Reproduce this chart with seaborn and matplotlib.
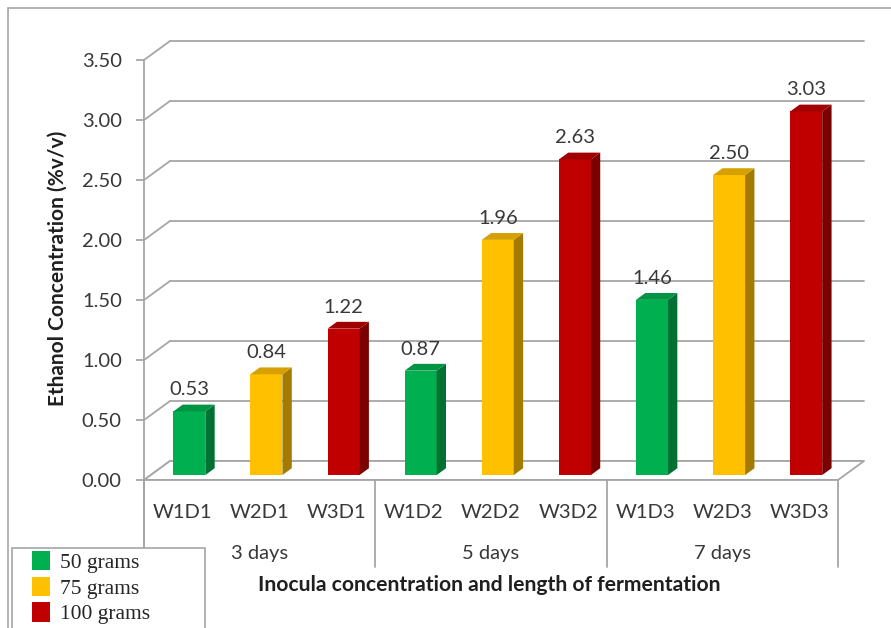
import matplotlib
matplotlib.use("Agg")
import matplotlib.pyplot as plt
from matplotlib.patches import Polygon, Patch, Rectangle
import numpy as np
import pandas as pd
import seaborn as sns

# ---------------- data ----------------
samples = ["W1D1", "W2D1", "W3D1", "W1D2", "W2D2", "W3D2", "W1D3", "W2D3", "W3D3"]
inocula = ["50 grams", "75 grams", "100 grams"] * 3
ethanol = [0.53, 0.84, 1.22, 0.87, 1.96, 2.63, 1.46, 2.50, 3.03]
day_groups = ["3 days", "5 days", "7 days"]
yticks = [0.0, 0.5, 1.0, 1.5, 2.0, 2.5, 3.0, 3.5]
palette = {"50 grams": "#00B050", "75 grams": "#FFC000", "100 grams": "#C00000"}

df = pd.DataFrame({"sample": samples, "inocula": inocula, "ethanol": ethanol})

# ---------------- style ----------------
sns.set_theme(style="white")
plt.rcParams["font.family"] = ["Lato", "DejaVu Sans"]
TXT = "#383838"
GRID = "#A6A6A6"

W, H = 891, 628
fig = plt.figure(figsize=(W / 100, H / 100), dpi=100)
fig.patch.set_facecolor("white")

# front plane of the pseudo-3D box (pixels)
ax_l, ax_r, ax_t, ax_b = 144, 838, 60, 480
ax = fig.add_axes([ax_l / W, (H - ax_b) / H, (ax_r - ax_l) / W, (ax_b - ax_t) / H])
ax.set_facecolor("none")
ax.set_xlim(-0.5, len(samples) - 0.5)
ax.set_ylim(0, 3.5)

ux = (ax_r - ax_l) / len(samples)   # px per category
uy = (ax_b - ax_t) / 3.5            # px per value unit
DX = 26 / ux                        # full depth offset in data units
DY = 19 / uy
z0, zd = 0.26, 0.36                 # bar start depth and bar depth (fractions)

x0, x1 = -0.5, len(samples) - 0.5

# back wall gridlines and left wall diagonals
for t in yticks:
    ax.plot([x0 + DX, x1 + DX], [t + DY, t + DY], color=GRID, lw=1.3, zorder=1, clip_on=False)
    ax.plot([x0, x0 + DX], [t, t + DY], color=GRID, lw=1.3, zorder=1, clip_on=False)

# floor
floor = Polygon([[x0, 0], [x1, 0], [x1 + DX, DY], [x0 + DX, DY]], closed=True,
                facecolor="white", edgecolor=GRID, lw=1.3, zorder=1.5, clip_on=False)
ax.add_patch(floor)

# bars via seaborn
sns.barplot(data=df, x="sample", y="ethanol", hue="inocula", palette=palette,
            dodge=False, width=0.415, order=samples, hue_order=list(palette.keys()),
            legend=False, ax=ax, zorder=3, saturation=1, linewidth=0)


def shade(c, f):
    r, g, b, a = c
    return (r * f, g * f, b * f, 1)


bars = [p for p in ax.patches if isinstance(p, Rectangle) and p.get_height() > 0]
for p in bars:
    px, pw, ph = p.get_x(), p.get_width(), p.get_height()
    fc = p.get_facecolor()
    nx = px + z0 * DX
    ny = z0 * DY
    p.set_x(nx)
    p.set_y(ny)
    p.set_zorder(3)
    top = ny + ph
    side = Polygon([[nx + pw, ny], [nx + pw + zd * DX, ny + zd * DY],
                    [nx + pw + zd * DX, top + zd * DY], [nx + pw, top]],
                   closed=True, facecolor=shade(fc, 0.64), edgecolor="none", zorder=3)
    topf = Polygon([[nx, top], [nx + pw, top], [nx + pw + zd * DX, top + zd * DY],
                    [nx + zd * DX, top + zd * DY]],
                   closed=True, facecolor=shade(fc, 0.84), edgecolor="none", zorder=3)
    ax.add_patch(side)
    ax.add_patch(topf)
    ax.text(nx + pw / 2, top + 13 / uy, f"{ph:.2f}", ha="center", va="bottom",
            fontsize=14.5, color=TXT, zorder=5)

# axes cosmetics
for s in ["top", "right", "bottom"]:
    ax.spines[s].set_visible(False)
ax.spines["left"].set_color(GRID)
ax.spines["left"].set_linewidth(1.3)
ax.spines["left"].set_bounds(-0.2 * 3.5, 3.5)
ax.axhline(0, color=GRID, lw=1.3, zorder=2)

ax.set_yticks(yticks)
ax.set_yticklabels([f"{v:.2f}" for v in yticks])
ax.tick_params(axis="y", left=True, length=6, width=1.3, color=GRID, pad=10,
               labelsize=14.5, labelcolor=TXT)
ax.set_xticks(range(len(samples)))
ax.set_xticklabels(samples)
ax.tick_params(axis="x", bottom=False, length=0, pad=17, labelsize=14.5, labelcolor=TXT)
ax.set_xlabel("")
ax.set_ylabel("")

# category group separators and labels
trans = ax.get_xaxis_transform()
sep_len = 87 / (ax_b - ax_t)
for xs in [x0, 2.5, 5.5, x1]:
    ax.plot([xs, xs], [0, -sep_len], color=GRID, lw=1.3, transform=trans, clip_on=False)
for i, g in enumerate(day_groups):
    ax.text(3 * i + 1, -74 / (ax_b - ax_t), g, transform=trans, ha="center", va="center",
            fontsize=14.5, color=TXT)

# axis titles
fig.text(489 / W, 1 - 585 / H, "Inocula concentration and length of fermentation",
         ha="center", va="center", fontsize=15.2, fontweight="bold", color="#1f1f1f")
fig.text(58 / W, 1 - 268 / H, "Ethanol Concentration (%v/v)", rotation=90,
         ha="center", va="center", fontsize=15, fontweight="bold", color="#1f1f1f")

# outer frame
fig.add_artist(Rectangle((8 / W, -0.5), 2, 1.5 - 8 / H, transform=fig.transFigure,
                         fill=False, edgecolor=GRID, lw=1.2))

# legend box
fig.add_artist(Rectangle((12 / W, -0.2), 193 / W, 0.2 + (H - 548) / H,
                         transform=fig.transFigure, facecolor="white",
                         edgecolor="#A6A6A6", lw=1.2, zorder=10))
handles = [Patch(facecolor=c, edgecolor="none", label=k) for k, c in palette.items()]
leg = fig.legend(handles=handles, loc="upper left",
                 bbox_to_anchor=(32 / W, 1 - 551 / H),
                 frameon=False, prop={"family": "Liberation Serif", "size": 15.5},
                 handlelength=0.84, handleheight=1.0, handletextpad=0.45, labelspacing=0.17,
                 borderpad=0, borderaxespad=0, ncol=1)
leg.set_zorder(11)

fig.savefig("out.png", dpi=100)
